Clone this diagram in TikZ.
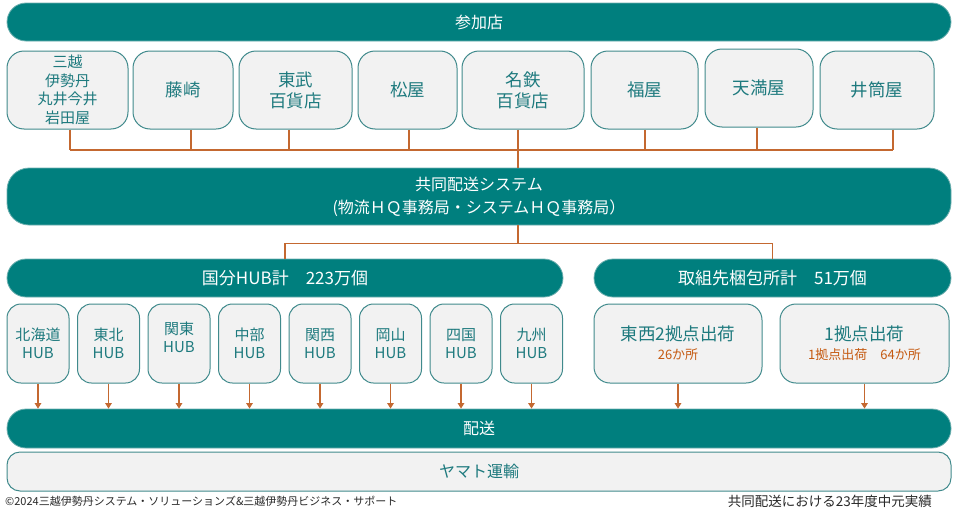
\documentclass[tikz,border=0pt]{standalone}
\usepackage{fontspec}
\setmainfont{Noto Sans CJK JP}
\usetikzlibrary{arrows.meta}
\definecolor{tealbar}{RGB}{0,127,126}
\definecolor{tealedge}{RGB}{110,175,175}
\definecolor{boxfill}{RGB}{242,242,242}
\definecolor{boxline}{RGB}{64,138,140}
\definecolor{boxtext}{RGB}{30,122,126}
\definecolor{orangeline}{RGB}{196,104,48}
\definecolor{orangetext}{RGB}{197,90,17}
\definecolor{foottext}{RGB}{40,40,40}
\begin{document}
\begin{tikzpicture}[x=1pt,y=-1pt,
  bar/.style={fill=tealbar, draw=tealedge, line width=0.8pt, rounded corners=19pt, text=white, inner sep=0pt, align=center, font=\fontsize{16}{23}\selectfont},
  storebox/.style={fill=boxfill, draw=boxline, line width=1pt, rounded corners=17pt, text=boxtext, align=center, minimum height=78pt, inner sep=0pt, font=\fontsize{17.5}{21}\selectfont},
  hubbox/.style={fill=boxfill, draw=boxline, line width=1pt, rounded corners=14pt, text=boxtext, align=center, minimum width=62pt, minimum height=79pt, inner sep=0pt, font=\fontsize{15}{18}\selectfont},
  pbox/.style={fill=boxfill, draw=boxline, line width=1pt, rounded corners=16pt, text=boxtext, align=center, minimum height=79pt, inner sep=0pt, font=\fontsize{17.5}{19}\selectfont},
  conn/.style={draw=orangeline, line width=1.3pt},
  arr/.style={conn, -{Triangle[width=6.5pt,length=5.5pt]}},
  foot/.style={text=foottext, inner sep=0pt}
]
\useasboundingbox (0,0) rectangle (957,514);

% top bar
\node[bar, minimum width=944pt, minimum height=38pt] (top) at (479,22) {参加店};

% stores
\node[storebox, minimum width=121pt, font=\fontsize{15}{18.6}\selectfont] (s1) at (67.5,90) {三越\\伊勢丹\\丸井今井\\岩田屋};
\node[storebox, minimum width=100pt] (s2) at (183,90) {藤崎};
\node[storebox, minimum width=113pt] (s3) at (295.5,90) {東武\\百貨店};
\node[storebox, minimum width=99pt] (s4) at (407.5,90) {松屋};
\node[storebox, minimum width=122pt] (s5) at (523,90) {名鉄\\百貨店};
\node[storebox, minimum width=107pt] (s6) at (644.5,90) {福屋};
\node[storebox, minimum width=108pt] (s7) at (759,88) {天満屋};
\node[storebox, minimum width=114pt] (s8) at (877,90) {井筒屋};

% system bar
\node[bar, rounded corners=22pt, minimum width=944pt, minimum height=57pt] (sys) at (479,196.5) {共同配送システム\\(物流ＨＱ事務局・システムＨＱ事務局）};

% store connectors
\coordinate (busL) at ([xshift=2.5pt]s1.south |- 0,150);
\coordinate (busR) at ([xshift=16pt]s8.south |- 0,150);
\draw[conn] ([xshift=2.5pt]s1.south) -- (busL);
\draw[conn] ([xshift=8pt]s2.south) -- ++(0,21);
\draw[conn] ([xshift=-6.5pt]s3.south) -- ++(0,21);
\draw[conn] ([xshift=1.5pt]s4.south) -- ++(0,21);
\draw[conn] ([xshift=-5pt]s5.south) -- ([xshift=39pt]sys.north);
\draw[conn] ([xshift=0.5pt]s6.south) -- ++(0,21);
\draw[conn] ([xshift=-2pt]s7.south) -- ++(0,23);
\draw[conn] ([xshift=16pt]s8.south) -- (busR);
\draw[conn] (busL) -- (busR);

% second level bars
\node[bar, minimum width=556pt, minimum height=38pt, font=\fontsize{17}{20}\selectfont] (hubbar) at (285,278) {国分HUB計　223万個};
\node[bar, minimum width=357pt, minimum height=38pt, font=\fontsize{17}{20}\selectfont] (pkbar) at (772.5,278) {取組先梱包所計　51万個};

\draw[conn] ([xshift=39pt]sys.south) -- ++(0,18) coordinate (j);
\draw[conn] (hubbar.north) |- (j) -| (pkbar.north);

% hub boxes
\node[hubbox] (h1) at (38,343.5) {北海道\\HUB};
\node[hubbox] (h2) at (108.5,343.5) {東北\\HUB};
\node[hubbox] (h3) at (179,343.5) {関東\\HUB\\[-6pt]\mbox{}};
\node[hubbox] (h4) at (249.5,343.5) {中部\\HUB};
\node[hubbox] (h5) at (320,343.5) {関西\\HUB};
\node[hubbox] (h6) at (390.5,343.5) {岡山\\HUB};
\node[hubbox] (h7) at (461,343.5) {四国\\HUB};
\node[hubbox] (h8) at (531.5,343.5) {九州\\HUB};

% packing boxes
\node[pbox, minimum width=168pt] (p1) at (678,343.5) {東西2拠点出荷\\{\color{orangetext}\fontsize{13}{14}\selectfont 26か所}};
\node[pbox, minimum width=169pt] (p2) at (864.5,343.5) {1拠点出荷\\{\color{orangetext}\fontsize{13}{14}\selectfont 1拠点出荷　64か所}};

% delivery bars
\node[bar, minimum width=944pt, minimum height=39pt] (deliv) at (479,428.5) {配送};
\node[fill=boxfill, draw=boxline, line width=1pt, rounded corners=13pt, text=boxtext, inner sep=0pt, minimum width=944pt, minimum height=39pt, font=\fontsize{16}{20}\selectfont] (yamato) at (479,471.5) {ヤマト運輸};

% arrows
\foreach \n in {h1,h2,h3,h4,h5,h6,h7,h8,p1,p2}{
  \draw[arr] (\n.south) -- (\n.south |- deliv.north);
}

% footers
\node[foot, anchor=west, font=\fontsize{11}{13}\selectfont] (fl) at (5,501) {©2024三越伊勢丹システム・ソリューションズ\&三越伊勢丹ビジネス・サポート};
\node[foot, anchor=east, font=\fontsize{13.5}{15}\selectfont] (fr) at (932,501) {共同配送における23年度中元実績};
\end{tikzpicture}
\end{document}
